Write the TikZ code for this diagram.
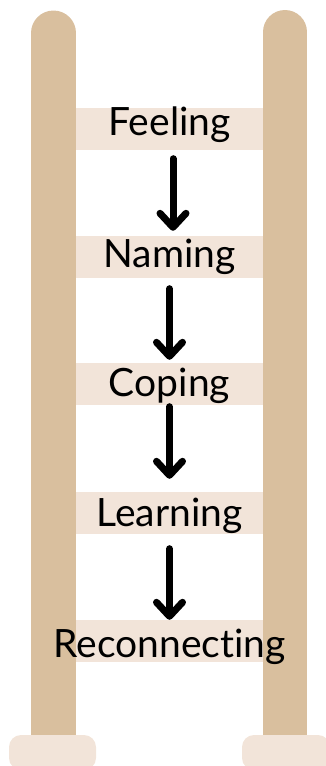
\documentclass[tikz,border=0pt]{standalone}
\usepackage{fontspec}
\setmainfont[Ligatures=NoCommon]{Lato}
\usetikzlibrary{arrows.meta}
\definecolor{railtan}{RGB}{217,191,158}
\definecolor{rungpale}{RGB}{242,228,217}

\begin{document}
\begin{tikzpicture}[x=1pt, y=-1pt,
    word/.style={inner sep=0pt, text height=34pt, text depth=8pt, anchor=base, font=\fontsize{39}{41}\selectfont},
    arr/.style={line width=7pt, line cap=round, -{Straight Barb[length=14pt, width=26pt, round]}}]
  \useasboundingbox (0,0) rectangle (326,766);

  % rails and feet
  \draw[railtan, line width=45pt, line cap=round] (53.5,33) -- (53.5,745);
  \draw[railtan, line width=44pt, line cap=round] (285,32) -- (285,745);
  \fill[rungpale, rounded corners=12pt] (9,735) rectangle (96,770);
  \fill[rungpale, rounded corners=12pt] (242,735) rectangle (330,770);

  % rungs
  \foreach \t in {108,236,363,492,620}
    \fill[rungpale] (76,\t) rectangle (263,\t+42);

  \node[word] (feeling) at (169.5,135) {Feeling};
  \node[word] (naming) at (169.5,267) {Naming};
  \node[word] (coping) at (169.5,396) {Coping};
  \node[word] (learning) at (169.5,526) {Learning};
  \node[word] (reconnecting) at (169.5,657) {Reconnecting};

  \foreach \a/\b/\dx/\s/\e in {feeling/naming/3.5/15.5/2, naming/coping/0/13.5/2,
      coping/learning/0/2.5/13, learning/reconnecting/0/14.5/3}
    \draw[arr, shorten <=\s pt, shorten >=\e pt] ([xshift=\dx pt]\a.south) -- ([xshift=\dx pt]\b.north);
\end{tikzpicture}
\end{document}
